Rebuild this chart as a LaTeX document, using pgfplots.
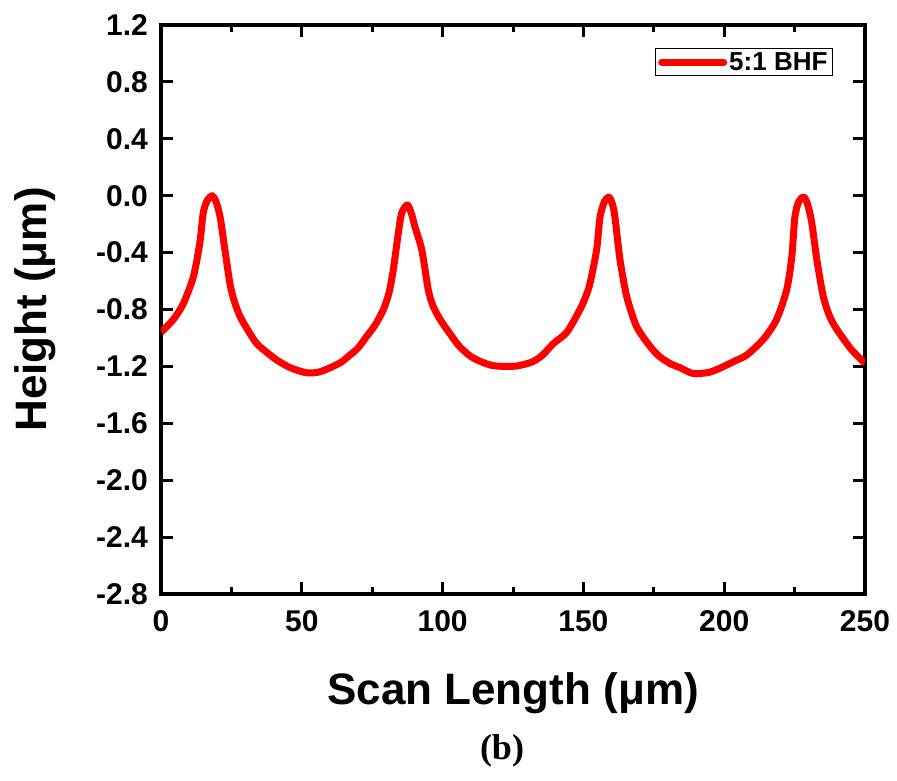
\documentclass[border=0pt]{standalone}
\usepackage{fontspec}
\setmainfont{Liberation Sans}
\newfontfamily\serifb{Liberation Serif}
\usepackage{pgfplots}
\pgfplotsset{compat=1.18}
\begin{document}
\begin{tikzpicture}
\begin{axis}[
  scale only axis,
  width=704pt, height=569pt,
  xmin=0, xmax=250, ymin=-2.8, ymax=1.2,
  axis line style={line width=4pt},
  tick align=inside,
  major tick length=12pt, minor tick length=7pt,
  every tick/.style={black, line width=3pt},
  xtick={0,50,100,150,200,250},
  xticklabels={0,50,100,150,200,250},
  minor xtick={25,75,125,175,225},
  ytick={-2.8,-2.4,-2.0,-1.6,-1.2,-0.8,-0.4,0.0,0.4,0.8,1.2},
  yticklabels={-2.8,-2.4,-2.0,-1.6,-1.2,-0.8,-0.4,0.0,0.4,0.8,1.2},
  tick label style={font=\fontsize{30}{30}\selectfont\bfseries, inner sep=0pt},
  xticklabel style={anchor=north, yshift=-16pt},
  yticklabel style={anchor=east, xshift=-13pt},
  xlabel={Scan Length (μm)},
  ylabel={Height (μm)},
  label style={font=\fontsize{44}{44}\selectfont\bfseries, inner sep=0pt},
  xlabel style={at={([yshift=-111pt]axis description cs:0.5,0)}, anchor=base},
  ylabel style={at={([xshift=-114pt]axis description cs:0,0.5)}, anchor=base, rotate=0},
  legend style={at={(rel axis cs:0.9545,0.9596)}, anchor=north east, draw=black, line width=1pt,
    font=\fontsize{26}{26}\selectfont\bfseries, inner xsep=3pt, inner ysep=2pt,
    nodes={inner sep=2pt}},
  legend image code/.code={\draw[#1, line cap=round] (0pt,0pt) -- (62pt,0pt);},
]
\addplot[red, line width=7pt, line join=round, smooth, tension=0.45] coordinates {
(0,-0.96) (4.4,-0.87) (7.9,-0.76) (11.5,-0.57) (13.8,-0.33) (15.0,-0.12) (16.5,-0.03)
(18.2,0.00) (19.5,-0.04) (21.0,-0.15) (22.7,-0.38) (24.5,-0.62) (26,-0.74) (28.1,-0.85)
(31,-0.95) (34,-1.04) (37.5,-1.10) (41.1,-1.155) (46,-1.21) (51.7,-1.245) (56,-1.24)
(60,-1.21) (64,-1.17) (67.1,-1.12) (70,-1.07) (73,-0.99) (76,-0.91) (79,-0.80)
(81,-0.68) (82.5,-0.52) (84.3,-0.26) (85.5,-0.12) (87.5,-0.065) (89,-0.13) (90.2,-0.22)
(92.6,-0.38) (94.9,-0.66) (96.5,-0.77) (99.1,-0.87) (102.6,-0.97) (106,-1.06) (110,-1.13)
(114,-1.17) (118,-1.195) (123,-1.20) (127,-1.195) (132,-1.167) (135.5,-1.12) (139.3,-1.04)
(144.1,-0.96) (148.8,-0.80) (150.8,-0.71) (152.3,-0.62) (154.7,-0.38) (155.9,-0.15)
(157.5,-0.04) (159.1,-0.01) (160.3,-0.06) (161.2,-0.15) (163,-0.45) (165.4,-0.71)
(168.9,-0.92) (173.7,-1.06) (177,-1.13) (180.8,-1.18) (184.4,-1.21) (189,-1.25)
(195,-1.24) (200.9,-1.19) (204,-1.16) (208,-1.12) (213.9,-1.01) (218.6,-0.87)
(222.2,-0.66) (224,-0.43) (225.1,-0.15) (226.5,-0.04) (228.3,-0.01) (229.6,-0.06)
(231.1,-0.19) (232.9,-0.45) (235.2,-0.71) (237.5,-0.85) (240,-0.94) (244.7,-1.07)
(247.5,-1.13) (250,-1.18)
};
\addlegendentry{5:1 BHF}
\end{axis}
\node[anchor=base, font=\fontsize{36}{36}\selectfont\serifb\bfseries, inner sep=0pt] at (341pt,-166pt) {(b)};
\pgfresetboundingbox
\path[use as bounding box] (-161pt,-187pt) rectangle (736pt,594pt);
\end{tikzpicture}
\end{document}
